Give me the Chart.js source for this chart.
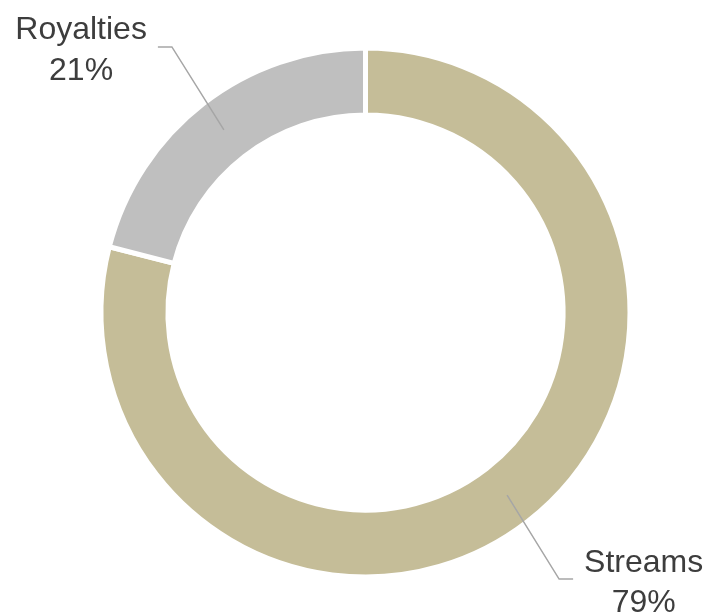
<!DOCTYPE html>
<html>
<head>
<meta charset="utf-8">
<script src="https://cdn.jsdelivr.net/npm/chart.js@4/dist/chart.umd.min.js"></script>
<style>
  html, body { margin: 0; padding: 0; background: #ffffff; }
  canvas { display: block; }
</style>
</head>
<body>
<canvas id="chart" width="707" height="614"></canvas>
<script>
// Revenue split by source
const categories = ['Streams', 'Royalties'];
const shares = [79, 21];
const sliceColors = ['#c5bd98', '#bfbfbf'];

// Callout labels with leader lines drawn from each arc's centroid
const calloutPlugin = {
  id: 'callouts',
  afterDatasetsDraw(chart) {
    const ctx = chart.ctx;
    const meta = chart.getDatasetMeta(0);
    const font = '32px "Liberation Sans", Arial, Helvetica, sans-serif';
    meta.data.forEach((arc, i) => {
      const p = arc.getProps(['x', 'y', 'startAngle', 'endAngle', 'innerRadius', 'outerRadius'], true);
      const mid = (p.startAngle + p.endAngle) / 2;
      const r = (p.innerRadius + p.outerRadius) / 2;
      const sx = p.x + Math.cos(mid) * r;
      const sy = p.y + Math.sin(mid) * r;
      const right = Math.cos(mid) >= 0;
      const dir = right ? 1 : -1;
      const ex = sx + dir * 52;
      const ey = sy + (Math.sin(mid) >= 0 ? 84 : -83);
      const hx = ex + dir * 14;

      ctx.save();
      ctx.strokeStyle = '#a6a6a6';
      ctx.lineWidth = 1.5;
      ctx.beginPath();
      ctx.moveTo(sx, sy);
      ctx.lineTo(ex, ey);
      ctx.lineTo(hx, ey);
      ctx.stroke();

      const lines = [categories[i], shares[i] + '%'];
      ctx.font = font;
      ctx.fillStyle = '#3d3d3d';
      ctx.textAlign = 'center';
      ctx.textBaseline = 'alphabetic';
      const w = Math.max(...lines.map(t => ctx.measureText(t).width));
      const cx = right ? hx + 11 + w / 2 : hx - 11 - w / 2;
      ctx.fillText(lines[0], cx, ey - 7.5);
      ctx.fillText(lines[1], cx, ey + 32.8);
      ctx.restore();
    });
  }
};

new Chart(document.getElementById('chart'), {
  type: 'doughnut',
  data: {
    labels: categories,
    datasets: [{
      data: shares,
      backgroundColor: sliceColors,
      borderColor: '#ffffff',
      borderWidth: 5,
      hoverOffset: 0
    }]
  },
  options: {
    responsive: false,
    animation: false,
    cutout: '74.7%',
    layout: { padding: { left: 98.5, right: 74.5, top: 45.5, bottom: 34.5 } },
    plugins: {
      legend: { display: false },
      tooltip: { enabled: false }
    }
  },
  plugins: [calloutPlugin]
});
</script>
</body>
</html>
